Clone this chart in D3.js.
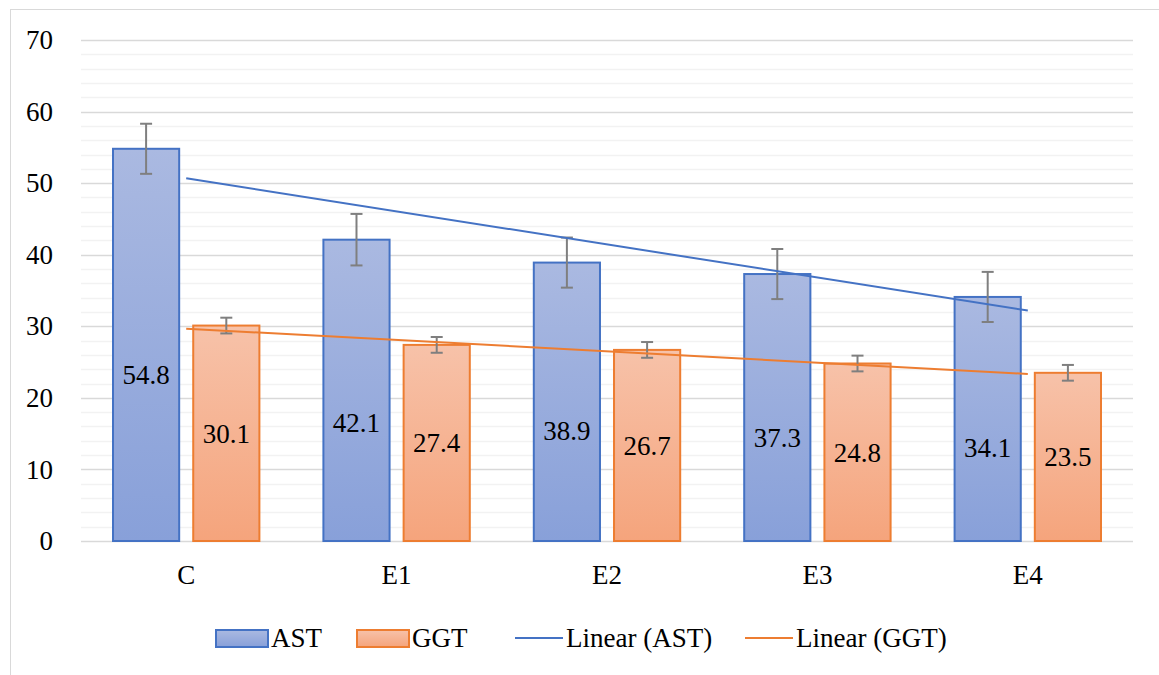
<!DOCTYPE html>
<html>
<head>
<meta charset="utf-8">
<script src="https://cdn.jsdelivr.net/npm/d3@7"></script>
<style>
  body { margin: 0; background: #fff; }
  svg text { font-family: "Liberation Serif", "DejaVu Serif", serif; fill: #000; }
</style>
</head>
<body>
<div class="chart"></div>
<script>
const categories = ['C', 'E1', 'E2', 'E3', 'E4'];
const seriesNames = ['AST', 'GGT'];
const astValues = [54.8, 42.1, 38.9, 37.3, 34.1];
const ggtValues = [30.1, 27.4, 26.7, 24.8, 23.5];
const astErrors = [3.5, 3.6, 3.5, 3.5, 3.5];
const ggtErrors = [1.1, 1.1, 1.1, 1.1, 1.1];
// where the AST value labels sit (in axis units)
const astLabelAt = [23.2, 16.5, 15.4, 14.5, 13.1];
const yTicks = [0, 10, 20, 30, 40, 50, 60, 70];

const W = 1159, H = 675;
const margin = ({top: 40, right: 26, bottom: 134, left: 81});
const FONT = '"Liberation Serif", "DejaVu Serif", serif';
const FS = '27px';

const svg = d3.select('.chart')
    .append('svg')
    .attr('width', W)
    .attr('height', H);

// chart border
svg.append('rect')
    .attr('x', 10.5).attr('y', 9.5)
    .attr('width', 1170).attr('height', 680)
    .attr('fill', 'none')
    .attr('stroke', '#d9d9d9');

const defs = svg.append('defs');
function grad(id, top, bottom) {
    const g = defs.append('linearGradient')
        .attr('id', id)
        .attr('x1', 0).attr('y1', 0).attr('x2', 0).attr('y2', 1);
    g.append('stop').attr('offset', '0%').attr('stop-color', top);
    g.append('stop').attr('offset', '100%').attr('stop-color', bottom);
}
grad('gAST', '#aab9e1', '#88a0d9');
grad('gGGT', '#f7c2a9', '#f5a47c');

const xScale = d3.scaleBand()
    .domain(categories)
    .range([margin.left, W - margin.right]);

const xInner = d3.scaleBand()
    .domain(seriesNames)
    .range([32, xScale.bandwidth() - 32])
    .paddingInner(0.175);

const yScale = d3.scaleLinear()
    .domain([0, 70])
    .range([H - margin.bottom, margin.top]);

// minor gridlines every 2
const minor = d3.range(0, 70.01, 2).filter(v => v % 10 !== 0);
svg.append('g').selectAll('line')
    .data(minor)
    .enter()
    .append('line')
    .attr('x1', margin.left).attr('x2', W - margin.right)
    .attr('y1', d => Math.round(yScale(d)) + 0.5)
    .attr('y2', d => Math.round(yScale(d)) + 0.5)
    .attr('stroke', '#f2f2f2')
    .attr('stroke-width', 1.5);

// major gridlines
svg.append('g').selectAll('line')
    .data(yTicks)
    .enter()
    .append('line')
    .attr('x1', margin.left).attr('x2', W - margin.right)
    .attr('y1', d => Math.round(yScale(d)) + 0.5)
    .attr('y2', d => Math.round(yScale(d)) + 0.5)
    .attr('stroke', '#d9d9d9')
    .attr('stroke-width', 1.5);

// y axis labels
const yAxis = d3.axisLeft(yScale)
    .tickValues(yTicks)
    .tickSize(0)
    .tickPadding(0);
const gy = svg.append('g')
    .attr('transform', 'translate(' + 53 + ',0)')
    .call(yAxis)
    .attr('font-family', FONT);
gy.select('.domain').remove();
gy.selectAll('text').style('font-size', FS).attr('fill', '#000');

// x axis labels
const xAxis = d3.axisBottom(xScale).tickSize(0).tickPadding(0);
const gx = svg.append('g')
    .attr('transform', 'translate(0,' + 565 + ')')
    .call(xAxis)
    .attr('font-family', FONT);
gx.select('.domain').remove();
gx.selectAll('text').style('font-size', FS).attr('fill', '#000');

const data = categories.map((c, i) => ({
    cat: c,
    AST: astValues[i], GGT: ggtValues[i],
    errAST: astErrors[i], errGGT: ggtErrors[i],
    labAST: astLabelAt[i], labGGT: ggtValues[i] / 2
}));

const colors = {AST: '#4472c4', GGT: '#ed7d31'};

const groups = svg.append('g').selectAll('g')
    .data(data)
    .enter()
    .append('g')
    .attr('transform', d => 'translate(' + xScale(d.cat) + ',0)');

seriesNames.forEach(s => {
    groups.append('rect')
        .attr('x', xInner(s))
        .attr('y', d => yScale(d[s]))
        .attr('width', xInner.bandwidth())
        .attr('height', d => yScale(0) - yScale(d[s]))
        .attr('fill', 'url(#g' + s + ')')
        .attr('stroke', colors[s])
        .attr('stroke-width', 2);
});

// trendlines (least squares over category index)
function fit(vals) {
    const xs = vals.map((v, i) => i + 1);
    const mx = d3.mean(xs), my = d3.mean(vals);
    const b = d3.sum(xs, (x, i) => (x - mx) * (vals[i] - my)) / d3.sum(xs, x => (x - mx) * (x - mx));
    const a = my - b * mx;
    return [1, vals.length].map(x => ({cat: categories[x - 1], v: a + b * x}));
}
const line = d3.line()
    .x(d => xScale(d.cat) + xScale.bandwidth() / 2)
    .y(d => yScale(d.v));
svg.append('path').datum(fit(astValues))
    .attr('d', line).attr('fill', 'none')
    .attr('stroke', colors.AST).attr('stroke-width', 2);
svg.append('path').datum(fit(ggtValues))
    .attr('d', line).attr('fill', 'none')
    .attr('stroke', colors.GGT).attr('stroke-width', 2);

// error bars
seriesNames.forEach(s => {
    const cx = xInner(s) + xInner.bandwidth() / 2;
    const eb = groups.append('g').attr('stroke', '#7f7f7f').attr('stroke-width', 2);
    eb.append('line')
        .attr('x1', cx).attr('x2', cx)
        .attr('y1', d => yScale(d[s] + d['err' + s]))
        .attr('y2', d => yScale(d[s] - d['err' + s]));
    [1, -1].forEach(sign => {
        eb.append('line')
            .attr('x1', cx - 6).attr('x2', cx + 6)
            .attr('y1', d => yScale(d[s] + sign * d['err' + s]))
            .attr('y2', d => yScale(d[s] + sign * d['err' + s]));
    });
});

// value labels
seriesNames.forEach(s => {
    groups.append('text')
        .attr('x', xInner(s) + xInner.bandwidth() / 2)
        .attr('y', d => yScale(d['lab' + s]))
        .attr('dy', '0.35em')
        .attr('text-anchor', 'middle')
        .style('font-size', FS)
        .text(d => d[s].toFixed(1));
});

// legend
const legend = svg.append('g').attr('transform', 'translate(0,638)');
const legendItems = [
    {name: 'AST', type: 'bar', x: 216},
    {name: 'GGT', type: 'bar', x: 357},
    {name: 'Linear (AST)', type: 'line', key: 'AST', x: 515},
    {name: 'Linear (GGT)', type: 'line', key: 'GGT', x: 745}
];
legendItems.forEach(it => {
    if (it.type === 'bar') {
        legend.append('rect')
            .attr('x', it.x).attr('y', -8)
            .attr('width', 52).attr('height', 17)
            .attr('fill', 'url(#g' + it.name + ')')
            .attr('stroke', colors[it.name]).attr('stroke-width', 2);
    } else {
        legend.append('line')
            .attr('x1', it.x).attr('x2', it.x + 48)
            .attr('y1', 0).attr('y2', 0)
            .attr('stroke', colors[it.key]).attr('stroke-width', 2);
    }
    legend.append('text')
        .attr('x', it.x + (it.type === 'bar' ? 55 : 51))
        .attr('dy', '0.35em')
        .style('font-size', FS)
        .text(it.name);
});
</script>
</body>
</html>
